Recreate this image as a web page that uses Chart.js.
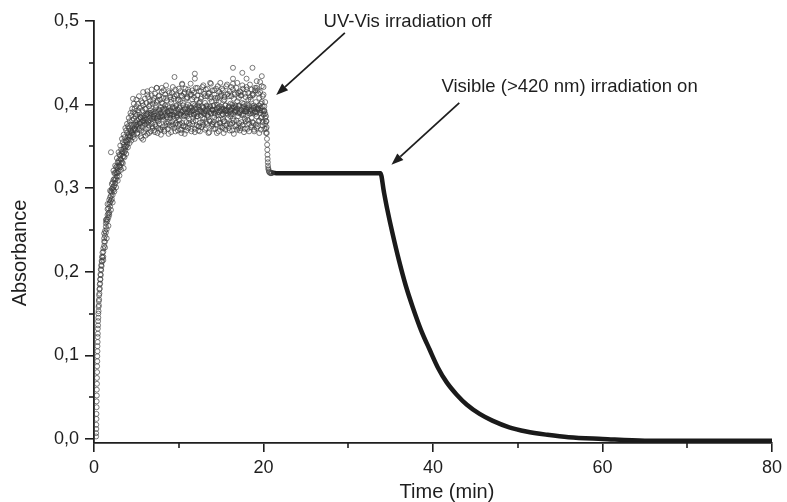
<!DOCTYPE html>
<html><head><meta charset="utf-8">
<script src="https://cdn.jsdelivr.net/npm/chart.js@4/dist/chart.umd.min.js"></script>
<style>html,body{margin:0;padding:0;background:#fff}canvas{display:block}</style>
</head><body>
<canvas id="c" width="787" height="502"></canvas>
<script>
// ---- data ----
const riseTime = [0.25,0.27,0.29,0.31,0.33,0.35,0.37,0.39,0.41,0.43,0.45,0.48,0.51,0.54,0.57,0.6,0.64,0.68,0.72,0.76,0.8,0.85,0.9,0.95,1.0];
const riseA1 = [0.003,0.012,0.024,0.038,0.052,0.066,0.08,0.093,0.105,0.116,0.126,0.136,0.145,0.153,0.16,0.167,0.174,0.18,0.186,0.191,0.196,0.202,0.207,0.212,0.217];
const riseA2 = [0.007,0.017,0.03,0.045,0.059,0.073,0.087,0.099,0.111,0.122,0.132,0.141,0.15,0.158,0.165,0.172,0.179,0.185,0.191,0.197,0.203,0.208,0.213,0.218,0.223];

const scanTime = [
 1.1,1.2,1.3,1.4,1.5,1.6,1.7,1.8,1.9,2.0,
 2.1,2.2,2.3,2.4,2.5,2.6,2.7,2.8,2.9,3.0,
 3.1,3.2,3.3,3.4,3.5,3.6,3.7,3.8,3.9,4.0,
 4.1,4.2,4.3,4.4,4.5,4.6,4.7,4.8,4.9,5.0,
 5.1,5.2,5.3,5.4,5.5,5.6,5.7,5.8,5.9,6.0,
 6.1,6.2,6.3,6.4,6.5,6.6,6.7,6.8,6.9,7.0,
 7.1,7.2,7.3,7.4,7.5,7.6,7.7,7.8,7.9,8.0,
 8.1,8.2,8.3,8.4,8.5,8.6,8.7,8.8,8.9,9.0,
 9.1,9.2,9.3,9.4,9.5,9.6,9.7,9.8,9.9,10.0,
 10.1,10.2,10.3,10.4,10.5,10.6,10.7,10.8,10.9,11.0,
 11.1,11.2,11.3,11.4,11.5,11.6,11.7,11.8,11.9,12.0,
 12.1,12.2,12.3,12.4,12.5,12.6,12.7,12.8,12.9,13.0,
 13.1,13.2,13.3,13.4,13.5,13.6,13.7,13.8,13.9,14.0,
 14.1,14.2,14.3,14.4,14.5,14.6,14.7,14.8,14.9,15.0,
 15.1,15.2,15.3,15.4,15.5,15.6,15.7,15.8,15.9,16.0,
 16.1,16.2,16.3,16.4,16.5,16.6,16.7,16.8,16.9,17.0,
 17.1,17.2,17.3,17.4,17.5,17.6,17.7,17.8,17.9,18.0,
 18.1,18.2,18.3,18.4,18.5,18.6,18.7,18.8,18.9,19.0,
 19.1,19.2,19.3,19.4,19.5,19.6,19.7,19.8,19.9,20.0,
 20.1,20.2,20.3];

const scanA1 = [
 0.228,0.231,0.249,0.247,0.263,0.262,0.276,0.271,0.289,0.285,
 0.299,0.292,0.310,0.303,0.318,0.311,0.326,0.318,0.333,0.327,
 0.339,0.330,0.344,0.338,0.352,0.343,0.357,0.350,0.366,0.358,
 0.372,0.361,0.376,0.368,0.381,0.370,0.383,0.372,0.386,0.375,
 0.388,0.374,0.391,0.377,0.385,0.369,0.393,0.380,0.387,0.376,
 0.395,0.378,0.389,0.372,0.398,0.381,0.390,0.377,0.401,0.383,
 0.392,0.376,0.399,0.384,0.405,0.380,0.394,0.371,0.397,0.386,
 0.401,0.382,0.395,0.375,0.408,0.387,0.398,0.379,0.392,0.384,
 0.403,0.380,0.396,0.388,0.410,0.376,0.399,0.385,0.405,0.382,
 0.397,0.389,0.411,0.378,0.402,0.386,0.394,0.373,0.407,0.390,
 0.400,0.383,0.396,0.391,0.412,0.377,0.401,0.388,0.395,0.381,
 0.406,0.386,0.399,0.374,0.403,0.392,0.409,0.384,0.397,0.389,
 0.402,0.379,0.395,0.387,0.413,0.381,0.398,0.390,0.404,0.376,
 0.399,0.385,0.408,0.382,0.396,0.391,0.403,0.378,0.410,0.387,
 0.394,0.388,0.405,0.380,0.399,0.393,0.412,0.384,0.397,0.377,
 0.401,0.389,0.396,0.383,0.407,0.392,0.399,0.375,0.404,0.386,
 0.398,0.390,0.411,0.379,0.402,0.387,0.395,0.383,0.409,0.392,
 0.400,0.381,0.397,0.389,0.406,0.384,0.413,0.378,0.399,0.391,
 0.403,0.386,0.396,0.380,0.408,0.393,0.401,0.385,0.410,0.388,
 0.398,0.384,0.380];

const scanA2 = [
 0.218,0.240,0.236,0.258,0.251,0.275,0.265,0.286,0.278,0.296,
 0.287,0.307,0.298,0.318,0.306,0.325,0.314,0.331,0.320,0.340,
 0.325,0.346,0.331,0.355,0.338,0.361,0.345,0.369,0.352,0.374,
 0.358,0.380,0.362,0.387,0.366,0.391,0.364,0.395,0.369,0.398,
 0.366,0.401,0.370,0.396,0.362,0.404,0.373,0.399,0.367,0.407,
 0.371,0.402,0.365,0.409,0.375,0.400,0.368,0.411,0.372,0.405,
 0.369,0.413,0.374,0.403,0.366,0.410,0.377,0.406,0.370,0.415,
 0.373,0.408,0.368,0.412,0.379,0.405,0.371,0.416,0.375,0.409,
 0.367,0.414,0.376,0.407,0.372,0.418,0.378,0.411,0.369,0.406,
 0.377,0.416,0.370,0.410,0.374,0.413,0.365,0.419,0.379,0.408,
 0.372,0.415,0.376,0.412,0.368,0.417,0.380,0.409,0.371,0.420,
 0.375,0.411,0.369,0.416,0.378,0.407,0.373,0.421,0.376,0.413,
 0.370,0.418,0.377,0.410,0.366,0.414,0.380,0.409,0.374,0.417,
 0.379,0.412,0.371,0.419,0.376,0.408,0.368,0.415,0.378,0.411,
 0.373,0.417,0.380,0.409,0.370,0.422,0.377,0.413,0.372,0.416,
 0.376,0.410,0.369,0.418,0.381,0.412,0.374,0.420,0.370,0.414,
 0.378,0.416,0.372,0.411,0.375,0.419,0.367,0.413,0.380,0.421,
 0.371,0.414,0.377,0.409,0.373,0.418,0.379,0.412,0.368,0.417,
 0.376,0.420,0.374,0.413,0.381,0.415,0.370,0.422,0.375,0.412,
 0.371,0.403,0.366];

const scanA3 = [
 0.224,0.236,0.243,0.254,0.260,0.268,0.270,0.281,0.283,0.291,
 0.295,0.300,0.302,0.311,0.310,0.319,0.318,0.324,0.326,0.331,
 0.335,0.334,0.341,0.343,0.347,0.350,0.349,0.356,0.355,0.362,
 0.365,0.363,0.369,0.366,0.373,0.369,0.376,0.371,0.379,0.376,
 0.381,0.377,0.383,0.378,0.385,0.379,0.386,0.381,0.384,0.380,
 0.387,0.382,0.389,0.381,0.390,0.384,0.388,0.383,0.391,0.385,
 0.389,0.384,0.392,0.383,0.391,0.386,0.393,0.385,0.390,0.387,
 0.394,0.386,0.392,0.388,0.395,0.385,0.391,0.389,0.396,0.387,
 0.393,0.388,0.397,0.386,0.392,0.390,0.398,0.387,0.394,0.389,
 0.396,0.388,0.393,0.391,0.399,0.387,0.395,0.390,0.397,0.386,
 0.394,0.391,0.398,0.389,0.396,0.392,0.393,0.388,0.399,0.390,
 0.395,0.389,0.397,0.392,0.394,0.387,0.398,0.391,0.396,0.390,
 0.393,0.392,0.399,0.388,0.395,0.391,0.397,0.389,0.394,0.393,
 0.398,0.390,0.394,0.392,0.400,0.388,0.396,0.391,0.393,0.395,
 0.397,0.389,0.395,0.393,0.399,0.390,0.394,0.392,0.398,0.391,
 0.394,0.393,0.400,0.389,0.396,0.391,0.397,0.392,0.395,0.390,
 0.399,0.391,0.394,0.393,0.397,0.389,0.398,0.392,0.395,0.394,
 0.396,0.390,0.399,0.392,0.394,0.393,0.398,0.390,0.396,0.392,
 0.397,0.391,0.395,0.394,0.399,0.390,0.396,0.393,0.398,0.392,
 0.393,0.389,0.386];

const scanA4 = [
 0.214,0.246,0.229,0.262,0.240,0.281,0.255,0.268,0.297,0.274,
 0.305,0.283,0.321,0.296,0.327,0.301,0.336,0.309,0.343,0.315,
 0.351,0.322,0.359,0.330,0.364,0.337,0.372,0.341,0.377,0.349,
 0.384,0.354,0.390,0.357,0.395,0.361,0.401,0.359,0.389,0.406,
 0.365,0.393,0.410,0.372,0.384,0.360,0.402,0.415,0.378,0.395,
 0.363,0.388,0.412,0.379,0.366,0.404,0.393,0.418,0.374,0.386,
 0.408,0.367,0.396,0.420,0.381,0.372,0.411,0.389,0.364,0.402,
 0.385,0.417,0.370,0.399,0.423,0.377,0.392,0.365,0.414,0.388,
 0.406,0.374,0.421,0.383,0.396,0.368,0.412,0.390,0.376,0.419,
 0.381,0.404,0.366,0.424,0.392,0.375,0.415,0.387,0.369,0.409,
 0.418,0.378,0.393,0.425,0.371,0.406,0.384,0.414,0.367,0.397,
 0.386,0.420,0.374,0.402,0.368,0.416,0.391,0.379,0.423,0.383,
 0.410,0.372,0.398,0.419,0.385,0.367,0.407,0.425,0.377,0.394,
 0.371,0.417,0.389,0.405,0.366,0.422,0.382,0.398,0.374,0.413,
 0.419,0.383,0.366,0.406,0.392,0.375,0.424,0.388,0.410,0.369,
 0.386,0.421,0.378,0.398,0.365,0.414,0.393,0.381,0.426,0.372,
 0.408,0.369,0.415,0.388,0.423,0.376,0.401,0.371,0.392,0.418,
 0.382,0.406,0.368,0.424,0.390,0.375,0.411,0.396,0.370,0.420,
 0.389,0.372,0.417,0.395,0.366,0.427,0.384,0.403,0.379,0.421,
 0.392,0.377,0.371];

const outlierTime = [2.0,3.5,4.6,5.8,6.3,7.4,8.0,9.5,10.2,10.4,11.9,11.9,13.7,14.9,15.2,16.4,16.4,16.4,17.5,18.0,18.7,19.2,19.8];
const outlierA = [0.343,0.324,0.407,0.358,0.416,0.420,0.420,0.433,0.370,0.425,0.437,0.431,0.426,0.426,0.372,0.444,0.431,0.425,0.438,0.431,0.444,0.428,0.434];

const dropTime = [20.35,20.37,20.39,20.41,20.43,20.45,20.47,20.49,20.51,20.53,20.56,20.6,20.65,20.7,20.8,20.9,21.0];
const dropA = [0.380,0.373,0.366,0.359,0.352,0.346,0.340,0.335,0.331,0.327,0.324,0.322,0.320,0.319,0.318,0.318,0.318];

const darkTime = [20.9,21.5,25,30,33.4,33.8,34.2,34.6,35.2,36.0,36.8,37.6,38.6,39.6,40.6,41.6,42.8,44.0,45.5,47.0,49.0,51.0,53.5,56.0,60.0,65,72,80];
const darkA = [0.319,0.318,0.318,0.318,0.318,0.318,0.296,0.275,0.247,0.213,0.183,0.158,0.130,0.107,0.085,0.068,0.053,0.041,0.030,0.022,0.014,0.009,0.005,0.002,0.000,-0.002,-0.002,-0.002];

const xTickValues = [0,20,40,60,80];
const xMinorValues = [10,30,50,70];
const yTickValues = [0,0.1,0.2,0.3,0.4,0.5];
const yMinorValues = [0.05,0.15,0.25,0.35,0.45];

const xTitle = 'Time (min)';
const yTitle = 'Absorbance';
const notes = [
  {text:'UV-Vis irradiation off', at:[37.0,0.4988], align:'center', from:[29.6,0.4857], to:[21.5,0.4116]},
  {text:'Visible (>420 nm) irradiation on', at:[41.0,0.421], align:'left', from:[43.1,0.402], to:[35.1,0.328]}
];

// ---- build ----
function pts(t, a){ const n=Math.min(t.length,a.length); const o=[]; for(let i=0;i<n;i++) o.push({x:t[i],y:a[i]}); return o; }
const FONT = "'Liberation Sans', Arial, Helvetica, sans-serif";
const INK = '#1e1e1e';
const circ = {showLine:false, pointStyle:'circle', pointRadius:2.5, pointBorderWidth:0.9, pointBorderColor:'rgba(60,60,60,0.75)', pointBackgroundColor:'rgba(255,255,255,0)', pointHoverRadius:2.5};

const extras = {
  id:'extras',
  afterDraw(chart){
    const ctx = chart.ctx, xs = chart.scales.x, ys = chart.scales.y;
    const ca = chart.chartArea;
    ctx.save();
    ctx.strokeStyle = INK; ctx.lineWidth = 1.6;
    xMinorValues.forEach(v=>{ const px=Math.round(xs.getPixelForValue(v)); ctx.beginPath(); ctx.moveTo(px, ca.bottom); ctx.lineTo(px, ca.bottom+5); ctx.stroke(); });
    yMinorValues.forEach(v=>{ const py=Math.round(ys.getPixelForValue(v)); ctx.beginPath(); ctx.moveTo(ca.left, py); ctx.lineTo(ca.left-5, py); ctx.stroke(); });
    // titles
    ctx.fillStyle = INK;
    ctx.font = '20px ' + FONT;
    ctx.textAlign = 'center'; ctx.textBaseline = 'middle';
    ctx.fillText(xTitle, 447, 492);
    ctx.save(); ctx.translate(20, 253); ctx.rotate(-Math.PI/2); ctx.fillText(yTitle, 0, 0); ctx.restore();
    // annotations
    ctx.font = '18.5px ' + FONT;
    ctx.lineWidth = 1.8; ctx.strokeStyle = INK; ctx.fillStyle = INK;
    notes.forEach(n=>{
      ctx.textAlign = n.align; ctx.textBaseline = 'middle';
      ctx.fillText(n.text, xs.getPixelForValue(n.at[0]), ys.getPixelForValue(n.at[1]));
      const x1=xs.getPixelForValue(n.from[0]), y1=ys.getPixelForValue(n.from[1]);
      const x2=xs.getPixelForValue(n.to[0]), y2=ys.getPixelForValue(n.to[1]);
      const ang=Math.atan2(y2-y1,x2-x1), L=12, W=4.5;
      const bx=x2-L*Math.cos(ang), by=y2-L*Math.sin(ang);
      ctx.beginPath(); ctx.moveTo(x1,y1); ctx.lineTo(bx,by); ctx.stroke();
      ctx.beginPath(); ctx.moveTo(x2,y2);
      ctx.lineTo(bx-W*Math.sin(ang), by+W*Math.cos(ang));
      ctx.lineTo(bx+W*Math.sin(ang), by-W*Math.cos(ang));
      ctx.closePath(); ctx.fill();
    });
    ctx.restore();
  }
};

const tickFont = {family:FONT, size:18};
new Chart(document.getElementById('c'), {
  type:'scatter',
  data:{datasets:[
    Object.assign({data:pts(riseTime,riseA1)}, circ),
    Object.assign({data:pts(riseTime,riseA2)}, circ),
    Object.assign({data:pts(scanTime,scanA1)}, circ),
    Object.assign({data:pts(scanTime,scanA2)}, circ),
    Object.assign({data:pts(scanTime,scanA3)}, circ),
    Object.assign({data:pts(scanTime,scanA4)}, circ),
    Object.assign({data:pts(outlierTime,outlierA)}, circ),
    Object.assign({data:pts(dropTime,dropA)}, circ),
    {data:pts(darkTime,darkA), showLine:true, borderColor:'#1a1a1a', borderWidth:4.5, pointRadius:0, cubicInterpolationMode:'monotone', fill:false}
  ]},
  options:{
    responsive:false, animation:false, devicePixelRatio:1,
    layout:{padding:{top:21, right:14, left:0, bottom:0}},
    plugins:{legend:{display:false}, tooltip:{enabled:false}},
    scales:{
      x:{type:'linear', min:0, max:80,
        afterBuildTicks(s){ s.ticks = xTickValues.map(v=>({value:v})); },
        afterFit(s){ s.height = 59; },
        ticks:{font:tickFont, color:INK, padding:5, maxRotation:0, callback:v=>String(v)},
        grid:{display:true, drawOnChartArea:false, drawTicks:true, tickLength:9, color:INK, lineWidth:1.6},
        border:{display:true, color:INK, width:1.8}
      },
      y:{type:'linear', min:-0.0048, max:0.5,
        afterBuildTicks(s){ s.ticks = yTickValues.map(v=>({value:v})); },
        afterFit(s){ s.width = 94; },
        ticks:{font:tickFont, color:INK, padding:6, callback:v=>v.toFixed(1).replace('.',',')},
        grid:{display:true, drawOnChartArea:false, drawTicks:true, tickLength:9, color:INK, lineWidth:1.6},
        border:{display:true, color:INK, width:1.8}
      }
    }
  },
  plugins:[extras]
});
</script>
</body></html>
